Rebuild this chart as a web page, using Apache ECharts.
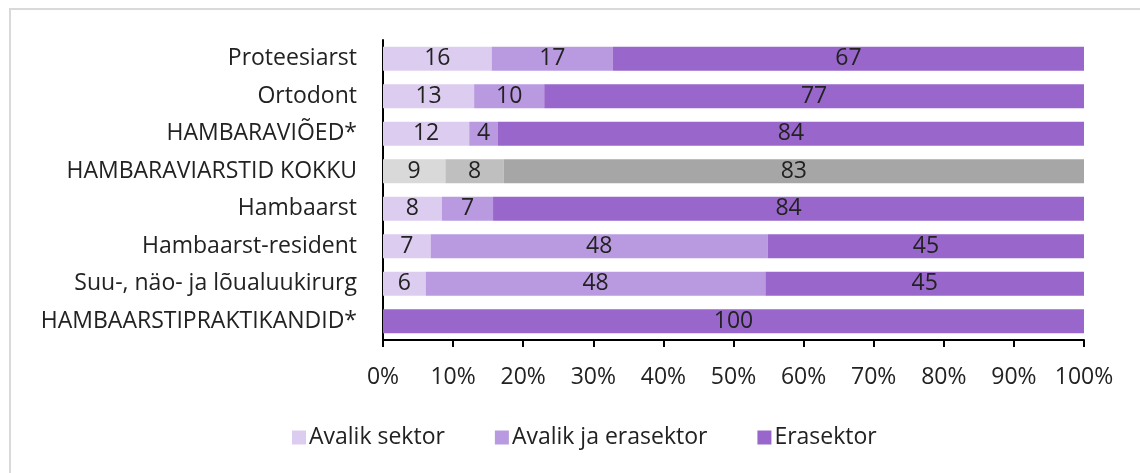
<!DOCTYPE html>
<html>
<head>
<meta charset="utf-8">
<script src="https://cdn.jsdelivr.net/npm/echarts@6/dist/echarts.min.js"></script>
<style>
  html, body { margin: 0; padding: 0; background: #fff; }
  #frame {
    position: absolute; left: 9px; top: 8px; width: 1140px; height: 470px;
    border-left: 2px solid #d9d9d9; border-top: 2px solid #d9d9d9;
  }
  #chart { position: absolute; left: 0; top: 0; width: 1140px; height: 473px; }
</style>
</head>
<body>
<div id="frame"></div>
<div id="chart"></div>
<script>
// kategooriad (ülevalt alla)
const categories = [
    'Proteesiarst',
    'Ortodont',
    'HAMBARAVIÕED*',
    'HAMBARAVIARSTID KOKKU',
    'Hambaarst',
    'Hambaarst-resident',
    'Suu-, näo- ja lõualuukirurg',
    'HAMBAARSTIPRAKTIKANDID*'
];
const seriesNames = ['Avalik sektor', 'Avalik ja erasektor', 'Erasektor'];

// osakaalud, %
const avalik = [15.5, 13.0, 12.3, 8.9, 8.4, 6.8, 6.1, 0];
const avalikJaEra = [17.3, 10.0, 4.1, 8.3, 7.3, 48.1, 48.45, 0];
const era = [67.2, 77.0, 83.6, 82.8, 84.3, 45.1, 45.45, 100];

const xTicks = [0, 10, 20, 30, 40, 50, 60, 70, 80, 90, 100];

const purples = ['#dccdf0', '#b99ae0', '#9966cc'];
const greys = ['#d9d9d9', '#bfbfbf', '#a6a6a6'];
const totalIndex = 3; // hall rida

const font = '"Open Sans", Lato, sans-serif';
const fs = 23;

function buildData(values, k) {
    return values.map(function(v, i) {
        const item = { value: v };
        if (i === totalIndex) item.itemStyle = { color: greys[k] };
        return item;
    });
}

const chart = echarts.init(document.getElementById('chart'));

const option = {
    animation: false,
    textStyle: { fontFamily: font },
    grid: { left: 383, top: 40, width: 701, height: 300 },
    legend: {
        data: seriesNames,
        bottom: 19,
        left: 287,
        itemWidth: 14,
        itemHeight: 14,
        itemGap: 50,
        icon: 'rect',
        textStyle: { fontSize: fs, color: '#222', fontFamily: font, padding: [0, 0, 0, -2] }
    },
    xAxis: {
        type: 'value',
        min: 0,
        max: 100,
        interval: 10,
        axisLine: { show: true, lineStyle: { color: '#000', width: 2 } },
        axisTick: { show: true, length: 7, lineStyle: { color: '#000', width: 2 } },
        splitLine: { show: false },
        axisLabel: {
            fontSize: fs,
            color: '#222',
            margin: 26,
            formatter: function(v) { return xTicks.indexOf(v) >= 0 ? v + '%' : ''; }
        }
    },
    yAxis: {
        type: 'category',
        data: categories,
        inverse: true,
        axisLine: { show: true, lineStyle: { color: '#000', width: 2 } },
        axisTick: { show: false },
        axisLabel: { fontSize: fs, color: '#222', margin: 26 }
    },
    series: [avalik, avalikJaEra, era].map(function(vals, k) {
        return {
            name: seriesNames[k],
            type: 'bar',
            stack: 'total',
            barCategoryGap: '36%',
            itemStyle: { color: purples[k] },
            label: {
                show: true,
                position: 'inside',
                fontSize: fs,
                color: '#222',
                formatter: function(p) {
                    return p.value > 0 ? Math.round(p.value) : '';
                }
            },
            data: buildData(vals, k)
        };
    })
};

chart.setOption(option);
</script>
</body>
</html>
